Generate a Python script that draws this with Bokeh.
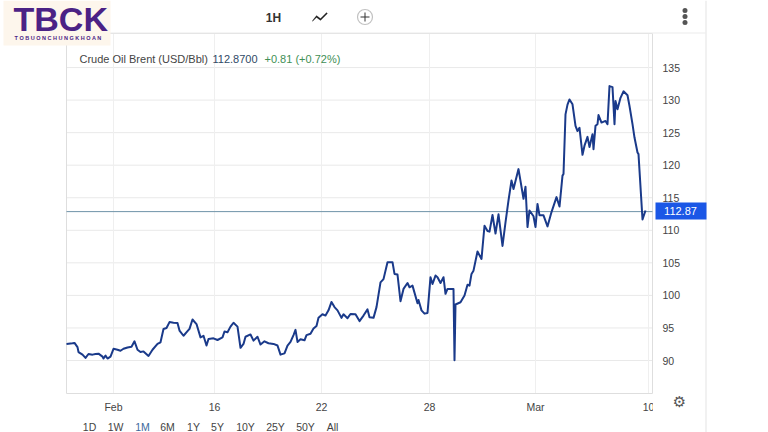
from bokeh.plotting import figure
from bokeh.embed import file_html
from bokeh.resources import INLINE
from bokeh.models import Label, BoxAnnotation, PolyAnnotation, FixedTicker

# ---- data ----
hours = [0,6,8,11,12,16,19,22,26,29,32,36,37,39,41,44,47,51,54,57,61,65,68,71,74,77,82,86,91,94,97,100,103,107,111,113,117,121,123,126,130,134,137,140,142,147,151,156,158,161,164,167,171,174,177,179,184,187,191,194,198,202,207,211,214,218,221,224,227,229,231,234,238,240,244,247,250,252,256,259,262,265,268,271,275,277,281,284,289,293,297,301,303,307,310,314,317,321,326,328,331,334,337,341,343,346,351,352,355,358,361,364,366,369,371,374,377,379,381,387,388,389,394,398,401,403,405,407,411,415,418,421,423,426,429,432,436,439,442,445,447,452,457,459,461,463,467,469,471,473,477,481,485,490,493,496,497,499,501,503,506,509,511,513,516,518,521,523,526,527,529,531,532,535,539,541,543,546,548,549,551,554,557,561,563,566,568,571,572,576,579]
prices = [92.55,92.65,92.7,92.05,91.3,90.9,90.4,91.0,90.9,91.0,91.05,90.6,90.3,90.75,90.3,90.6,91.8,91.65,91.5,91.8,92.0,92.1,92.95,91.65,91.3,91.4,90.7,91.65,92.55,92.8,94.85,95.0,95.9,95.8,95.75,94.6,93.8,94.5,94.85,96.3,95.6,93.55,93.8,92.3,93.3,93.4,93.15,93.55,94.45,94.35,95.2,95.8,95.2,91.95,92.55,93.65,94.0,93.05,93.65,92.45,92.95,92.65,92.55,92.3,90.9,91.1,92.3,92.85,93.9,94.7,92.85,93.25,93.1,93.9,94.1,94.9,95.3,96.55,97.1,96.9,97.7,99.0,98.2,97.7,96.55,97.1,96.5,97.15,97.1,96.05,96.9,97.85,96.65,96.55,98.2,102.0,102.5,105.1,105.1,103.3,103.2,99.1,101.0,101.9,101.25,101.5,98.8,99.3,97.7,97.2,97.3,102.8,101.75,103.05,102.8,101.9,102.8,100.25,101.0,101.0,90.05,98.6,98.95,100.0,101.65,101.5,103.3,103.8,106.75,105.6,110.7,109.9,109.8,112.35,109.5,112.45,107.6,111.2,114.6,117.65,116.35,119.4,114.85,116.7,110.5,113.05,112.15,110.5,114.05,112.3,112.3,110.6,112.8,115.1,113.65,118.4,118.65,127.8,129.3,130.1,129.35,126.05,125.25,125.75,121.6,123.0,124.35,122.8,124.75,122.45,126.05,126.3,127.7,126.55,126.8,126.3,132.15,132.0,126.3,129.85,128.6,130.35,131.35,130.75,129.1,126.3,124.25,121.95,121.7,111.65,113.05]
last_price = 112.87
price_ticks = [90,95,100,105,110,115,120,125,130,135]
time_ticks = [47,148,255,363,469,582]
time_labels = ["Feb","16","22","28","Mar","10"]
range_buttons = ["1D","1W","1M","6M","1Y","5Y","10Y","25Y","50Y","All"]

# chart window, in data units
t0, t1 = 0, 586
v0, v1 = 84.93, 140.23

# the frame fills the canvas so that the page furniture around the chart is not clipped
p = figure(width=768, height=432, output_backend="svg", toolbar_location=None,
           x_range=(-66, 702), y_range=(78.94, 145.3), y_axis_location="right",
           min_border_left=0, min_border_right=0, min_border_top=0, min_border_bottom=0,
           background_fill_color="white", border_fill_color="white")
p.outline_line_color = None
p.xgrid.visible = False
p.ygrid.visible = False

p.segment(x0=t0, x1=t1, y0=price_ticks, y1=price_ticks, line_color="#e9e9e9", line_width=1)
p.segment(x0=time_ticks, x1=time_ticks, y0=v0, y1=v1, line_color="#efefef", line_width=1)
p.quad(left=t0, right=t1, bottom=v0, top=v1, fill_color=None, line_color="#dedede", line_width=1)
p.segment(x0=t0, x1=t1, y0=last_price, y1=last_price, line_color="#6f93a8", line_width=1)
p.line(hours, prices, line_color="#1a3a8a", line_width=2, line_join="round")

p.yaxis.ticker = FixedTicker(ticks=price_ticks)
p.xaxis.ticker = FixedTicker(ticks=time_ticks)
p.xaxis.major_label_overrides = {t: l for t, l in zip(time_ticks, time_labels)}
p.xaxis.fixed_location = v0
p.yaxis.fixed_location = t1
for ax in (p.xaxis[0], p.yaxis[0]):
    ax.axis_line_color = None
    ax.major_tick_line_color = None
    ax.minor_tick_line_color = None
    ax.major_tick_out = 0
    ax.major_tick_in = 0
    ax.major_label_text_font = "Liberation Sans"
    ax.major_label_text_font_size = "10.5px"
    ax.major_label_text_color = "#444444"
p.yaxis.major_label_standoff = 10
p.xaxis.major_label_standoff = 7


def box(l, t, r, b, color, **kw):
    p.add_layout(BoxAnnotation(left=l, right=r, top=t, bottom=b,
                               left_units="canvas", right_units="canvas",
                               top_units="canvas", bottom_units="canvas", level="overlay",
                               fill_color=color, fill_alpha=kw.pop("fill_alpha", 1),
                               line_color=kw.pop("line_color", None), **kw))


def text(x, y, s, size="11px", color="#444444", align="left", font="Liberation Sans", style="normal"):
    p.add_layout(Label(x=x, y=y, x_units="canvas", y_units="canvas", text=s, level="overlay",
                       text_font=font, text_font_size=size, text_color=color,
                       text_align=align, text_baseline="middle", text_font_style=style))


# right-hand panel edge and toolbar separator
box(705, 0, 706, 432, "#e3e3e3")
box(66, 32, 705, 33, "#ececec")

# logo
box(3, 0, 110, 45, "#fdf6ec")
text(13, 18, "TBCK", size="34px", color="#4b2285", font="Liberation Sans", style="bold")
text(14, 37, "T O B U O N C H U N G K H O A N", size="5.5px", color="#4b2285", style="bold")

# toolbar
text(273, 17, "1H", size="12px", color="#333333", align="center", style="bold")
p.add_layout(PolyAnnotation(
    xs=[312, 316, 320, 326, 327, 320, 316, 312],
    ys=[20, 15, 18, 12, 13, 20, 17, 21],
    xs_units="canvas", ys_units="canvas", level="overlay",
    fill_color="#222222", fill_alpha=1, line_color="#222222", line_width=0.5))
box(357, 9, 372, 24, None, line_color="#333333", line_width=1.2, border_radius=8, fill_alpha=0)
box(360, 16, 369, 17, "#333333")
box(364, 12, 365, 21, "#333333")
for dot_y in (10, 16, 22):
    box(682, dot_y - 2.5, 687, dot_y + 2.5, "#555555", border_radius=3)

# headline
text(79, 58, "Crude Oil Brent (USD/Bbl)", size="11px", color="#444444")
text(212, 58, "112.8700", size="11px", color="#2f4a66")
text(264, 58, "+0.81 (+0.72%)", size="11px", color="#3f8f55")

# last price flag
box(655, 202, 706, 219, "#1b57e6")
text(680, 210.5, "112.87", size="11px", color="white", align="center")

# clipped final tick label
box(652.5, 398, 662, 412, "white")

# gear
text(679, 401, "\u2699", size="15px", color="#555555", align="center", font="DejaVu Sans")

# range selector
for label, x in zip(range_buttons, (89, 115, 142, 167, 193, 217, 245, 275, 305, 332)):
    text(x, 426, label, size="10.5px", color="#3b6a9c" if label == "1M" else "#444444", align="center")

open("out.html", "w").write(file_html(p, INLINE))
